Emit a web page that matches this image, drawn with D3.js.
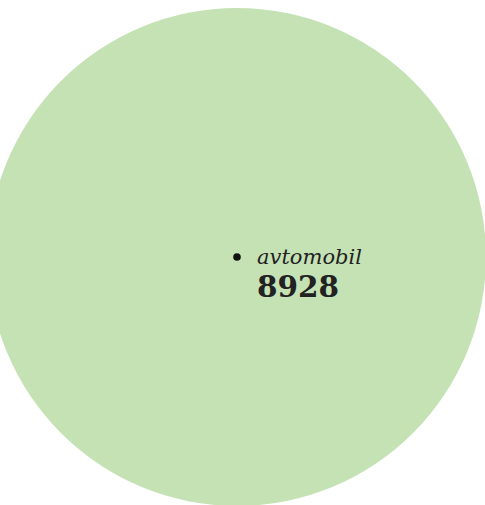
<!DOCTYPE html>
<html>
<head>
<meta charset="utf-8">
<script src="https://cdn.jsdelivr.net/npm/d3@7"></script>
<style>
  html, body { margin: 0; padding: 0; background: #fff; overflow: hidden; }
  svg { display: block; }
</style>
</head>
<body>
<svg id="chart" width="485" height="505"></svg>
<script>
const categories = ["avtomobil"];
const values = [8928];
const colors = ["#c5e2b5"];

const svg = d3.select("#chart");
const root = d3.hierarchy({children: categories.map((c, i) => ({name: c, value: values[i]}))})
  .sum(d => d.value || 0);
d3.pack().size([498, 498]).padding(0)(root);

const g = svg.append("g").attr("transform", "translate(-12,8)");
const node = g.selectAll("g.node").data(root.leaves()).join("g")
  .attr("class", "node")
  .attr("transform", d => `translate(${d.x},${d.y})`);

node.append("circle")
  .attr("r", d => d.r)
  .attr("fill", (d, i) => colors[i]);

node.append("circle")
  .attr("r", 3.8)
  .attr("fill", "#111");

node.append("text")
  .attr("x", 20)
  .attr("y", 7)
  .attr("font-family", "'DejaVu Serif', serif")
  .attr("font-style", "italic")
  .attr("font-size", 21)
  .attr("fill", "#222")
  .text(d => d.data.name);

node.append("text")
  .attr("x", 20)
  .attr("y", 40)
  .attr("font-family", "'DejaVu Serif', serif")
  .attr("font-weight", "bold")
  .attr("font-size", 29.5)
  .attr("fill", "#222")
  .text(d => d3.format("d")(d.data.value));
</script>
</body>
</html>
